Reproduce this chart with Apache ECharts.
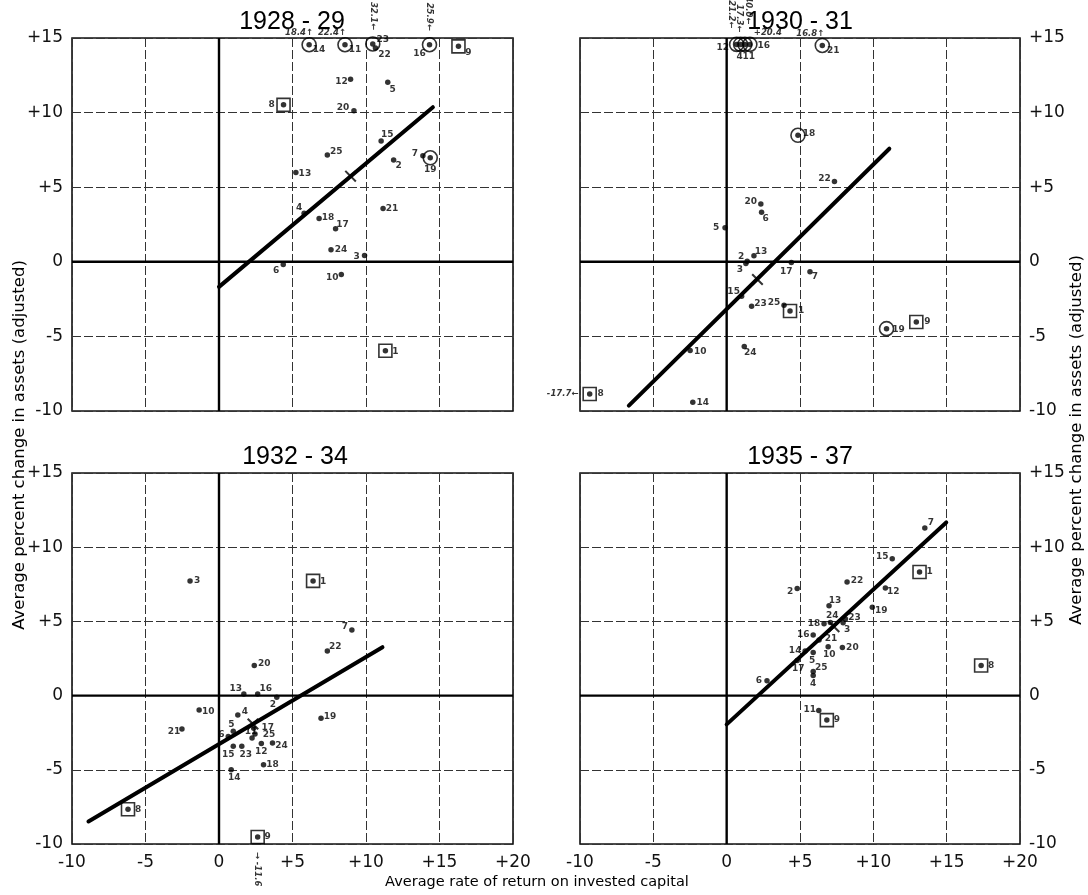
<!DOCTYPE html>
<html><head><meta charset="utf-8">
<script src="https://cdn.jsdelivr.net/npm/echarts@6.0.0/dist/echarts.min.js"></script>
<style>html,body{margin:0;padding:0;background:#fff}#c{width:1088px;height:895px}</style>
</head><body><div id="c"></div>
<script>
// ---------- DATA ----------
const titles = ['1928 - 29', '1930 - 31', '1932 - 34', '1935 - 37'];
const xTicks = [-10, -5, 0, 5, 10, 15, 20];
const yTicks = [-10, -5, 0, 5, 10, 15];
const xName = 'Average rate of return on invested capital';
const yName = 'Average percent change in assets (adjusted)';

// points: [rate of return, change in assets, firm number]
const pts1928 = [[6.13,14.55,14],[8.57,14.55,11],[10.46,14.6,23],[10.64,14.33,22],[14.32,14.55,16],[16.29,14.44,9],
  [8.95,12.24,12],[11.48,12.04,5],[4.39,10.52,8],[9.18,10.13,20],[11.03,8.09,15],[7.37,7.15,25],[11.88,6.82,2],
  [13.87,7.11,7],[14.37,6.97,19],[5.23,5.99,13],[5.79,3.25,4],[6.81,2.91,18],[7.93,2.22,17],[11.16,3.57,21],
  [7.62,0.81,24],[9.90,0.43,3],[4.37,-0.18,6],[8.32,-0.85,10],[11.32,-5.96,1]];
const circled1928 = [14, 11, 23, 16, 19];
const boxed1928 = [8, 9, 1];
const off1928 = [[14,'18.4↑'],[11,'22.4↑'],[23,'32.1←'],[16,'25.9←']];
const mean1928 = [8.95, 5.74];
const fit1928 = [[0, -1.68], [14.55, 10.36]];

const pts1930 = [[0.68,14.57,12],[0.95,14.57,4],[1.24,14.57,11],[1.58,14.57,16],[6.52,14.5,21],[4.86,8.48,18],
  [7.35,5.38,22],[2.33,3.88,20],[2.38,3.32,6],[-0.11,2.29,5],[1.86,0.40,13],[1.40,0.04,2],[1.31,-0.11,3],
  [4.41,-0.04,17],[5.68,-0.67,7],[1.02,-2.31,15],[1.70,-2.98,23],[3.91,-2.91,25],[4.32,-3.30,1],
  [-2.49,-5.94,10],[1.20,-5.67,24],[-2.31,-9.42,14],[-9.34,-8.86,8],[10.9,-4.48,19],[12.93,-4.03,9]];
const circled1930 = [12, 4, 11, 16, 21, 18, 19];
const boxed1930 = [1, 8, 9];
const off1930 = [[12,'21.2←'],[4,'17.3←'],[11,'40.0←'],[16,'+20.4'],[21,'16.8↑'],[8,'-17.7←']];
const mean1930 = [2.10, -1.19];
const fit1930 = [[-6.67, -9.64], [11.09, 7.58]];

const pts1932 = [[7.37,3.0,22],[2.40,2.03,20],[1.69,0.11,13],[2.63,0.11,16],[3.93,-0.11,2],[-1.35,-0.97,10],
  [1.28,-1.31,4],[6.94,-1.53,19],[-2.52,-2.25,21],[2.36,-2.2,17],[2.45,-2.59,25],[0.97,-2.41,5],[0.63,-2.75,6],
  [0.97,-3.42,15],[1.55,-3.42,23],[2.25,-2.85,11],[2.88,-3.22,12],[3.64,-3.20,24],[3.03,-4.66,18],[0.83,-5.0,14],
  [2.63,-9.53,9],[-6.19,-7.66,8],[-1.97,7.73,3],[6.40,7.73,1],[9.04,4.42,7]];
const circled1932 = [];
const boxed1932 = [9, 8, 1];
const off1932 = [[9,'→ -11.6']];
const mean1932 = [2.31, -1.91];
const fit1932 = [[-8.88, -8.48], [11.12, 3.26]];

const pts1935 = [[13.51,11.29,7],[11.29,9.22,15],[13.15,8.33,1],[8.21,7.66,22],[4.81,7.21,2],[10.82,7.25,12],
  [6.98,6.05,13],[9.93,5.96,19],[7.07,4.93,24],[8.10,5.16,23],[7.94,4.91,3],[6.64,4.84,18],[5.90,4.08,16],
  [6.30,3.75,21],[5.35,3.01,14],[5.90,2.9,5],[6.92,3.30,10],[7.89,3.24,20],[4.81,2.37,17],[5.90,1.63,25],
  [5.90,1.36,4],[2.75,1.0,6],[6.28,-1.0,11],[6.83,-1.65,9],[17.35,2.03,8]];
const circled1935 = [];
const boxed1935 = [1, 9, 8];
const off1935 = [];
const mean1935 = [7.32, 4.64];
const fit1935 = [[0, -1.94], [14.97, 11.67]];

// ---------- STYLE (label offsets in screen px, not data) ----------
const lab1928 = {14:[10,5],11:[10,5],23:[10,-4],22:[9,7],16:[-10,9],9:[10,6],12:[-9,2],5:[5,7],8:[-12,0],20:[-11,-3],
  15:[6,-6],25:[9,-3],2:[5,6],7:[-8,-2],19:[0,12],13:[9,1],4:[-5,-6],18:[9,-1],17:[7,-4],21:[9,0],24:[10,0],
  3:[-8,1],6:[-7,6],10:[-9,3],1:[10,1]};
const offPos1928 = {14:[-10,-12,0],11:[-13,-12,0],23:[0,-28,-90],16:[0,-28,-90]};
const lab1930 = {12:[-14,3],4:[-1,12],11:[4,12],16:[14,1],21:[11,5],18:[11,-2],22:[-10,-3],20:[-10,-2],6:[4,6],
  5:[-9,0],13:[7,-4],2:[-6,-5],3:[-6,6],17:[-5,9],7:[5,5],15:[-8,-5],23:[9,-3],25:[-10,-3],1:[11,0],10:[10,1],
  24:[6,6],14:[10,0],8:[11,0],19:[12,1],9:[11,0]};
const offPos1930 = {12:[-5,-30,-90],4:[-1,-26,-90],11:[3,-34,-90],16:[18,-12,0],21:[-12,-12,0],8:[-27,0,0]};
const lab1932 = {22:[8,-4],20:[10,-2],13:[-8,-5],16:[8,-5],2:[-4,7],10:[9,2],4:[7,-3],19:[9,-2],21:[-8,3],
  17:[14,-1],25:[14,1],5:[-2,-7],6:[-7,-2],15:[-5,8],23:[4,8],11:[-1,-6],12:[0,8],24:[9,3],18:[9,0],14:[3,8],
  9:[10,0],8:[10,0],3:[7,0],1:[10,1],7:[-7,-3]};
const offPos1932 = {9:[0,32,-90]};
const lab1935 = {7:[6,-5],15:[-10,-2],1:[10,0],22:[10,-1],2:[-7,3],12:[8,4],13:[6,-5],19:[9,4],24:[2,-7],
  23:[9,-1],3:[4,7],18:[-10,0],16:[-10,0],21:[12,-1],14:[-10,0],5:[-1,8],10:[1,8],20:[10,0],17:[1,8],25:[8,-4],
  4:[0,8],6:[-8,0],11:[-9,-1],9:[10,0],8:[10,0]};
const offPos1935 = {};

const panels = [
  {pts:pts1928, circ:circled1928, box:boxed1928, off:off1928, offPos:offPos1928, mean:mean1928, fit:fit1928, lab:lab1928},
  {pts:pts1930, circ:circled1930, box:boxed1930, off:off1930, offPos:offPos1930, mean:mean1930, fit:fit1930, lab:lab1930},
  {pts:pts1932, circ:circled1932, box:boxed1932, off:off1932, offPos:offPos1932, mean:mean1932, fit:fit1932, lab:lab1932},
  {pts:pts1935, circ:circled1935, box:boxed1935, off:off1935, offPos:offPos1935, mean:mean1935, fit:fit1935, lab:lab1935}
];

// ---------- LAYOUT ----------
const gridPos = [
  {left:72, top:38, width:441, height:373},
  {left:580, top:38, width:440, height:373},
  {left:72, top:473, width:441, height:371},
  {left:580, top:473, width:440, height:371}
];
const FONT = 'DejaVu Sans';
const fmt = v => (v > 0 ? '+' + v : String(v));
const CROSS = 'path://M0,1.2L1.2,0L5,3.8L8.8,0L10,1.2L6.2,5L10,8.8L8.8,10L5,6.2L1.2,10L0,8.8L3.8,5Z';

const grid = gridPos.map(g => Object.assign({show:true, borderColor:'#111', borderWidth:1.6, backgroundColor:'#fff'}, g));
const xAxis = gridPos.map((g, i) => ({
  type:'value', gridIndex:i, min:xTicks[0], max:xTicks[xTicks.length-1], interval:5,
  axisLine:{show:false}, axisTick:{show:false},
  axisLabel:{show: i >= 2, formatter: fmt, fontSize:17, color:'#111', margin:10, fontFamily:FONT},
  splitLine:{show:true, lineStyle:{color:'#333', width:1, type:[9,3]}}
}));
const yAxis = gridPos.map((g, i) => ({
  type:'value', gridIndex:i, min:yTicks[0], max:yTicks[yTicks.length-1], interval:5,
  position: i % 2 === 0 ? 'left' : 'right',
  axisLine:{show:false}, axisTick:{show:false},
  axisLabel:{formatter: fmt, fontSize:17, color:'#111', margin:9, fontFamily:FONT},
  splitLine:{show:true, lineStyle:{color:'#333', width:1, type:[9,3]}}
}));

// convert a screen offset into the label's rotated frame (rotate -90 => clockwise)
function labelOffset(sx, sy, rot) {
  if (rot === -90) return [sy, -sx];
  return [sx, sy];
}

const series = [];
panels.forEach((P, i) => {
  const ax = {xAxisIndex:i, yAxisIndex:i};
  series.push(Object.assign({type:'line', data:[[0, yTicks[0]], [0, yTicks[yTicks.length-1]]], symbol:'none', silent:true, z:2,
    lineStyle:{color:'#000', width:2.4}}, ax));
  series.push(Object.assign({type:'line', data:[[xTicks[0], 0], [xTicks[xTicks.length-1], 0]], symbol:'none', silent:true, z:2,
    lineStyle:{color:'#000', width:2.4}}, ax));
  series.push(Object.assign({type:'line', data:P.fit, symbol:'none', silent:true, z:3,
    lineStyle:{color:'#000', width:4, cap:'round'}}, ax));
  series.push(Object.assign({type:'scatter', symbol:'circle', symbolSize:14, z:4, silent:true,
    data:P.pts.filter(p => P.circ.includes(p[2])).map(p => [p[0], p[1]]),
    itemStyle:{color:'rgba(255,255,255,0)', borderColor:'#000', borderWidth:1.6}}, ax));
  series.push(Object.assign({type:'scatter', symbol:'rect', symbolSize:13, z:4, silent:true,
    data:P.pts.filter(p => P.box.includes(p[2])).map(p => [p[0], p[1]]),
    itemStyle:{color:'rgba(255,255,255,0)', borderColor:'#000', borderWidth:1.6}}, ax));
  series.push(Object.assign({type:'scatter', symbol:'circle', symbolSize:5.5, z:5, silent:true,
    data:P.pts.map(p => ({name:String(p[2]), value:[p[0], p[1]], label:{offset:P.lab[p[2]] || [9,0]}})),
    itemStyle:{color:'#000'},
    label:{show:true, position:'inside', formatter:'{b}', fontSize:9, fontWeight:'bold', color:'#000', fontFamily:FONT}}, ax));
  // mean cross
  series.push(Object.assign({type:'scatter', symbol:CROSS, symbolSize:12, z:6, silent:true,
    data:[P.mean], itemStyle:{color:'#000'}}, ax));
  if (P.off.length) {
    series.push(Object.assign({type:'scatter', symbolSize:1, z:6, silent:true,
      data:P.off.map(o => {
        const p = P.pts.find(q => q[2] === o[0]);
        const s = P.offPos[o[0]] || [0,-14,0];
        return {name:o[1], value:[p[0], p[1]], label:{offset:labelOffset(s[0], s[1], s[2]), rotate:s[2]}};
      }),
      itemStyle:{color:'rgba(0,0,0,0)'},
      label:{show:true, position:'inside', formatter:'{b}', fontSize:8.5, fontStyle:'italic', fontWeight:'bold', color:'#000', fontFamily:FONT}}, ax));
  }
});

const titleCenters = [[292,22],[800,22],[295,457],[800,457]];
const graphic = titles.map((t, i) => ({type:'text', x:titleCenters[i][0], y:titleCenters[i][1],
  style:{text:t, fontSize:25, fontFamily:'Liberation Sans', fill:'#000', align:'center', verticalAlign:'middle'}}));
graphic.push({type:'text', x:537, y:882, style:{text:xName, fontSize:14.5, fontFamily:FONT, fill:'#000', align:'center', verticalAlign:'middle'}});
graphic.push({type:'text', x:20, y:445, rotation:Math.PI/2, style:{text:yName, fontSize:16.5, fontFamily:FONT, fill:'#000', align:'center', verticalAlign:'middle'}});
graphic.push({type:'text', x:1077, y:440, rotation:Math.PI/2, style:{text:yName, fontSize:16.5, fontFamily:FONT, fill:'#000', align:'center', verticalAlign:'middle'}});

const chart = echarts.init(document.getElementById('c'), null, {renderer:'canvas'});
chart.setOption({animation:false, backgroundColor:'#fff', grid, xAxis, yAxis, series, graphic});
</script></body></html>
